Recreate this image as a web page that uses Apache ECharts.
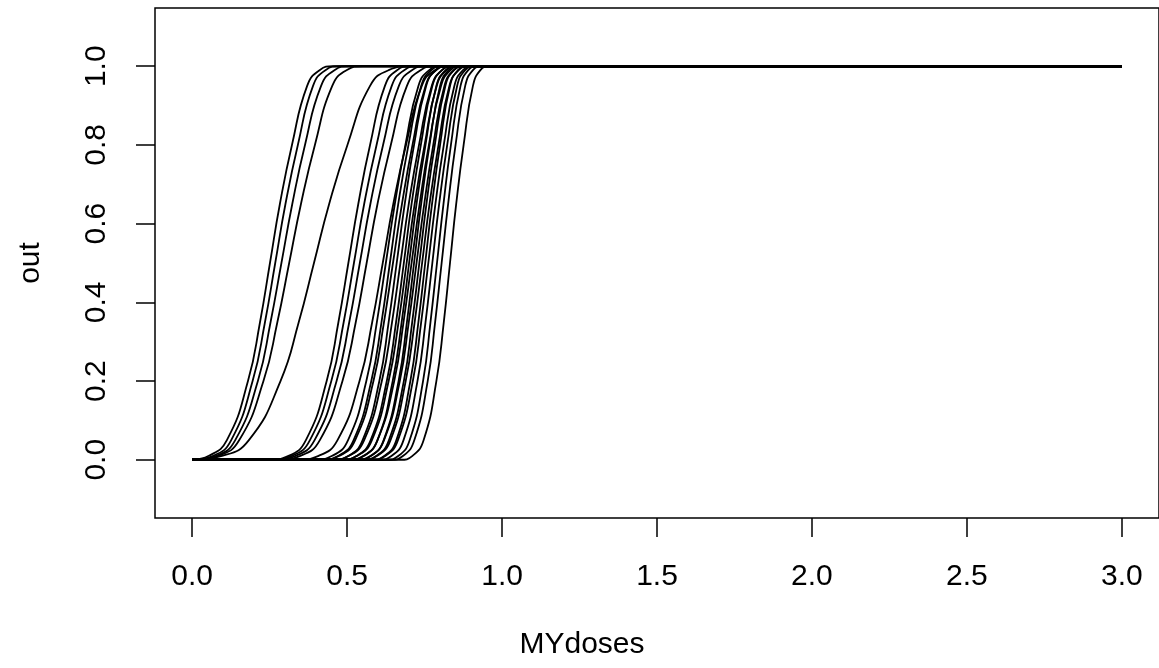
<!DOCTYPE html>
<html>
<head>
<meta charset="utf-8">
<script src="https://cdn.jsdelivr.net/npm/echarts@6/dist/echarts.min.js"></script>
<style>
html,body{margin:0;padding:0;background:#fff;overflow:hidden;}
#chart{width:1159px;height:668px;}
</style>
</head>
<body>
<div id="chart"></div>
<script>
// Response levels (y) shared by all curves
var levels = [0, 0, 0.01, 0.05, 0.2, 0.35, 0.5, 0.65, 0.8, 0.95, 0.99, 1, 1];
// Dose (x) at which each curve reaches the levels above (0 = already at dose 0)
var curve01 = [0, 0, 0.054, 0.112, 0.180, 0.219, 0.251, 0.283, 0.322, 0.371, 0.411, 0.456, 0.496];
var curve02 = [0, 0.001, 0.068, 0.126, 0.195, 0.235, 0.268, 0.301, 0.341, 0.390, 0.430, 0.477, 0.517];
var curve03 = [0, 0.007, 0.078, 0.139, 0.212, 0.253, 0.288, 0.323, 0.364, 0.416, 0.459, 0.508, 0.550];
var curve04 = [0, 0.009, 0.085, 0.152, 0.230, 0.275, 0.313, 0.351, 0.396, 0.452, 0.498, 0.551, 0.597];
var curve05 = [0, 0, 0.096, 0.183, 0.285, 0.344, 0.393, 0.442, 0.501, 0.574, 0.634, 0.703, 0.763];
var curve06 = [0.202, 0.246, 0.311, 0.367, 0.434, 0.472, 0.504, 0.536, 0.574, 0.622, 0.661, 0.706, 0.745];
var curve07 = [0.209, 0.255, 0.322, 0.380, 0.449, 0.489, 0.522, 0.555, 0.595, 0.644, 0.684, 0.731, 0.771];
var curve08 = [0.217, 0.265, 0.334, 0.395, 0.466, 0.507, 0.541, 0.575, 0.616, 0.667, 0.709, 0.757, 0.799];
var curve09 = [0.228, 0.278, 0.349, 0.412, 0.485, 0.528, 0.563, 0.598, 0.641, 0.693, 0.737, 0.786, 0.830];
var curve10 = [0.291, 0.339, 0.408, 0.469, 0.540, 0.581, 0.615, 0.649, 0.690, 0.741, 0.783, 0.831, 0.873];
var curve11 = [0.355, 0.395, 0.452, 0.503, 0.562, 0.596, 0.625, 0.654, 0.688, 0.730, 0.765, 0.805, 0.840];
var curve12 = [0.379, 0.417, 0.472, 0.521, 0.578, 0.611, 0.638, 0.665, 0.698, 0.739, 0.772, 0.811, 0.844];
var curve13 = [0.378, 0.418, 0.475, 0.526, 0.585, 0.619, 0.648, 0.677, 0.711, 0.753, 0.788, 0.828, 0.863];
var curve14 = [0.417, 0.453, 0.505, 0.550, 0.604, 0.634, 0.660, 0.686, 0.716, 0.755, 0.786, 0.822, 0.854];
var curve15 = [0.413, 0.451, 0.506, 0.555, 0.612, 0.645, 0.672, 0.699, 0.732, 0.773, 0.806, 0.845, 0.878];
var curve16 = [0.445, 0.481, 0.531, 0.576, 0.628, 0.658, 0.683, 0.708, 0.738, 0.775, 0.806, 0.841, 0.872];
var curve17 = [0.444, 0.480, 0.533, 0.580, 0.634, 0.666, 0.692, 0.718, 0.750, 0.789, 0.821, 0.858, 0.890];
var curve18 = [0.473, 0.507, 0.555, 0.598, 0.647, 0.676, 0.700, 0.724, 0.753, 0.788, 0.818, 0.851, 0.881];
var curve19 = [0.465, 0.501, 0.553, 0.598, 0.652, 0.682, 0.708, 0.734, 0.764, 0.803, 0.834, 0.870, 0.902];
var curve20 = [0.500, 0.532, 0.578, 0.618, 0.666, 0.693, 0.716, 0.739, 0.766, 0.800, 0.828, 0.860, 0.888];
var curve21 = [0.492, 0.526, 0.576, 0.619, 0.670, 0.699, 0.724, 0.749, 0.778, 0.814, 0.844, 0.879, 0.909];
var curve22 = [0.517, 0.549, 0.595, 0.635, 0.683, 0.710, 0.733, 0.756, 0.783, 0.817, 0.845, 0.877, 0.905];
var curve23 = [0.515, 0.549, 0.597, 0.640, 0.689, 0.718, 0.742, 0.766, 0.795, 0.830, 0.860, 0.893, 0.923];
var curve24 = [0.547, 0.577, 0.621, 0.659, 0.704, 0.730, 0.752, 0.774, 0.800, 0.832, 0.858, 0.889, 0.915];
var curve25 = [0.546, 0.578, 0.624, 0.664, 0.712, 0.739, 0.762, 0.785, 0.812, 0.846, 0.874, 0.906, 0.934];
var curve26 = [0.570, 0.600, 0.644, 0.682, 0.727, 0.753, 0.775, 0.797, 0.823, 0.855, 0.881, 0.912, 0.938];
var curve27 = [0.596, 0.624, 0.666, 0.702, 0.745, 0.769, 0.790, 0.811, 0.835, 0.866, 0.891, 0.920, 0.945];
var curve28 = [0.611, 0.639, 0.681, 0.717, 0.760, 0.784, 0.805, 0.826, 0.850, 0.881, 0.906, 0.935, 0.960];
var curve29 = [0.643, 0.671, 0.711, 0.747, 0.788, 0.812, 0.832, 0.852, 0.876, 0.906, 0.930, 0.958, 0.983];
// Dose range of every curve
var doseStart = 0.0;
var doseEnd = 3.0;
// Tick labels and titles
var xTicks = [0.0, 0.5, 1.0, 1.5, 2.0, 2.5, 3.0];
var yTicks = [0.0, 0.2, 0.4, 0.6, 0.8, 1.0];
var xTitle = 'MYdoses';
var yTitle = 'out';

var curves = [curve01, curve02, curve03, curve04, curve05, curve06, curve07, curve08, curve09, curve10,
  curve11, curve12, curve13, curve14, curve15, curve16, curve17, curve18, curve19, curve20,
  curve21, curve22, curve23, curve24, curve25, curve26, curve27, curve28, curve29];

var series = curves.map(function (doses, i) {
  var data = [[doseStart, levels[0]]];
  doses.forEach(function (d, j) {
    if (d > doseStart) data.push([d, levels[j]]);
  });
  data.push([doseEnd, levels[levels.length - 1]]);
  return {
    type: 'line', name: 'c' + (i + 1), data: data,
    showSymbol: false, smooth: 0.5,
    lineStyle: { color: '#000', width: 1.8 }, itemStyle: { color: '#000' },
    silent: true, z: 2
  };
});

var font = 'Liberation Sans, Arial, Helvetica, sans-serif';
var chart = echarts.init(document.getElementById('chart'), null, { renderer: 'canvas' });
chart.setOption({
  animation: false,
  backgroundColor: '#fff',
  title: {
    text: xTitle, left: 582, top: 630, textAlign: 'center',
    textStyle: { fontFamily: font, fontSize: 30, fontWeight: 'normal', color: '#000', lineHeight: 30 },
    padding: 0
  },
  grid: { left: 155, top: 8, width: 1011, height: 510, show: true, borderColor: '#000', borderWidth: 1.5, backgroundColor: 'transparent' },
  xAxis: {
    type: 'value', min: -0.12, max: 3.12,
    axisLine: { show: false, onZero: false },
    axisTick: { show: true, length: 19, lineStyle: { color: '#000', width: 1.5 }, customValues: xTicks },
    axisLabel: { show: true, margin: 44, fontFamily: font, fontSize: 30, color: '#000', lineHeight: 30, customValues: xTicks,
      formatter: function (v) { return v.toFixed(1); } },
    splitLine: { show: false }
  },
  yAxis: {
    type: 'value', min: -0.148, max: 1.148,
    name: yTitle, nameLocation: 'middle', nameGap: 109, nameRotate: 90,
    nameTextStyle: { fontFamily: font, fontSize: 30, color: '#000', lineHeight: 30 },
    axisLine: { show: false, onZero: false },
    axisTick: { show: true, length: 19, lineStyle: { color: '#000', width: 1.5 }, customValues: yTicks },
    axisLabel: { show: true, margin: 43, rotate: 90, fontFamily: font, fontSize: 30, color: '#000', lineHeight: 30, customValues: yTicks,
      formatter: function (v) { return v.toFixed(1); } },
    splitLine: { show: false }
  },
  series: series
});
</script>
</body>
</html>
